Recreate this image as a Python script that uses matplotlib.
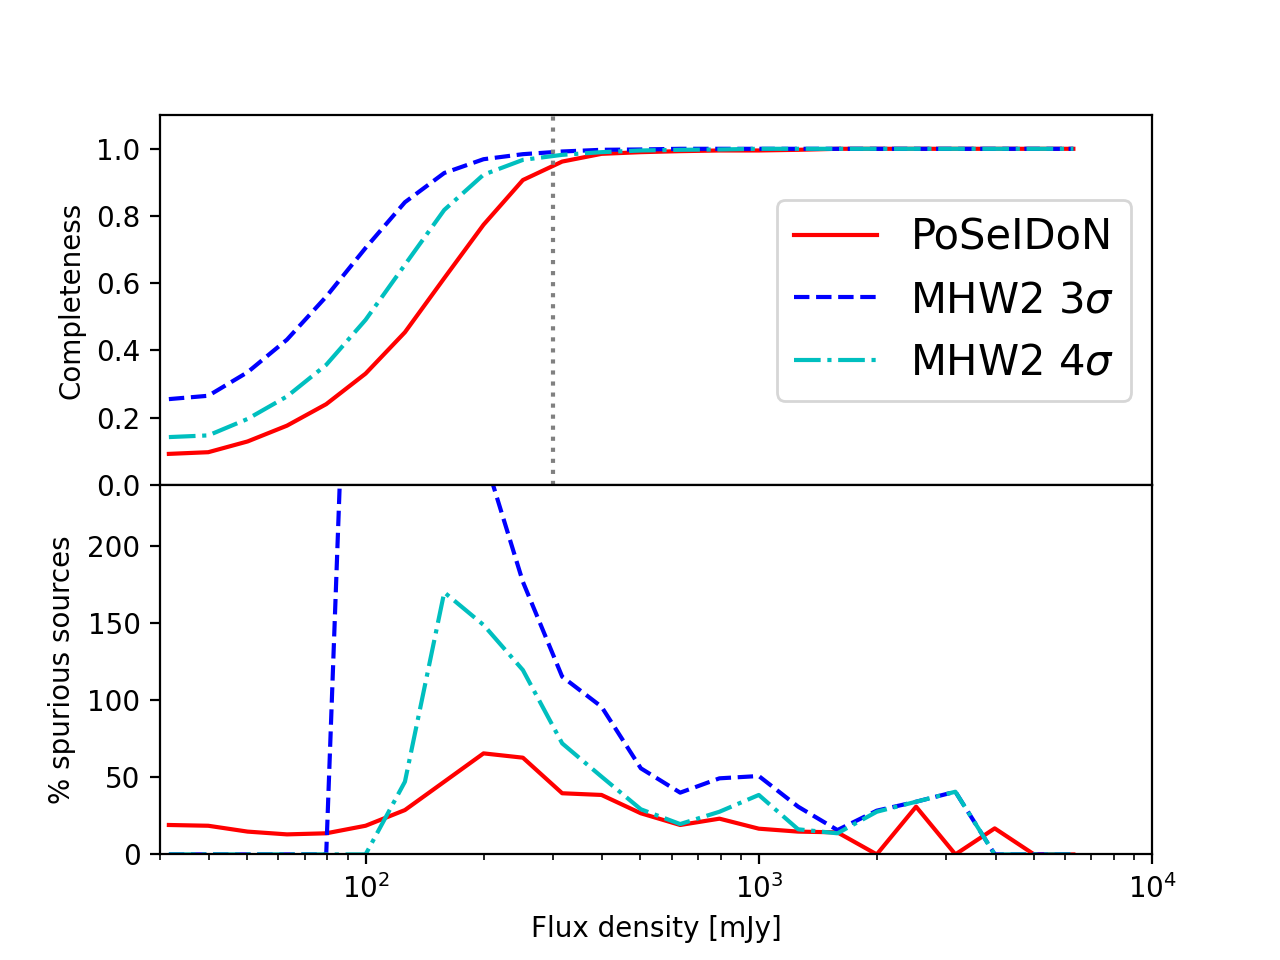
import numpy as np
import matplotlib
matplotlib.use('Agg')
import matplotlib.pyplot as plt


# bin centres [mJy]
flux = [31.6, 39.8, 50.1, 63.1, 79.4, 100.0, 125.9, 158.5, 199.5, 251.2, 316.2, 398.1,
        501.2, 631.0, 794.3, 1000.0, 1258.9, 1584.9, 1995.3, 2511.9, 3162.3, 3981.1,
        5011.9, 6309.6]

# completeness
comp_pos = [0.092, 0.097, 0.129, 0.176, 0.240, 0.331, 0.454, 0.615, 0.774, 0.907, 0.962, 0.985,
            0.990, 0.993, 0.995, 0.995, 0.997, 1.0, 1.0, 1.0, 1.0, 1.0, 1.0, 1.0]
comp_mhw3 = [0.255, 0.265, 0.335, 0.432, 0.560, 0.705, 0.841, 0.928, 0.969, 0.984, 0.992, 0.997,
             0.998, 1.0, 1.0, 1.0, 1.0, 1.0, 1.0, 1.0, 1.0, 1.0, 1.0, 1.0]
comp_mhw4 = [0.142, 0.147, 0.196, 0.263, 0.357, 0.491, 0.655, 0.818, 0.923, 0.967, 0.982, 0.990,
             0.995, 0.997, 0.998, 1.0, 1.0, 1.0, 1.0, 1.0, 1.0, 1.0, 1.0, 1.0]

# % spurious sources
spur_pos = [19.1, 18.6, 14.8, 13.0, 13.7, 18.6, 28.8, 47.2, 65.6, 62.8, 39.7, 38.6,
            26.7, 19.1, 23.2, 16.7, 14.8, 14.3, 0.0, 31.0, 0.0, 16.9, 0.0, 0.0]
spur_mhw3 = [0.0, 0.0, 0.0, 0.0, 0.0, 700.0, 550.0, 380.0, 260.0, 177.0, 115.4, 95.9,
             55.9, 40.1, 49.4, 50.9, 31.0, 15.8, 28.4, 34.2, 40.7, 0.0, 0.0, 0.0]
spur_mhw4 = [0.0, 0.0, 0.0, 0.0, 0.0, 0.0, 47.2, 170.2, 149.0, 119.7, 72.1, 50.5,
             29.3, 19.7, 27.7, 38.6, 16.3, 13.7, 27.7, 34.2, 40.7, 0.0, 0.0, 0.0]

flux_cut = 300.


fig, (ax1, ax2) = plt.subplots(2, 1, sharex=True, figsize=(6.4, 4.8), dpi=200)
plt.subplots_adjust(hspace=0)

ax1.plot(flux, comp_pos, 'r-', label='PoSeIDoN')
ax1.plot(flux, comp_mhw3, 'b--', label=r'MHW2 3$\sigma$')
ax1.plot(flux, comp_mhw4, 'c-.', label=r'MHW2 4$\sigma$')
ax1.axvline(flux_cut, color='gray', linestyle=':')
ax1.set_xscale('log')
ax1.set_ylim(0, 1.1)
ax1.set_ylabel('Completeness')
ax1.tick_params(axis='x', which='both', bottom=False)
ax1.legend(loc='center right', fontsize=15)

ax2.plot(flux, spur_pos, 'r-')
ax2.plot(flux, spur_mhw3, 'b--')
ax2.plot(flux, spur_mhw4, 'c-.')
ax2.set_xlim(30, 1e4)
ax2.set_ylim(0, 240)
ax2.set_ylabel('% spurious sources')
ax2.set_xlabel('Flux density [mJy]')

plt.savefig('out.png', dpi=200)
